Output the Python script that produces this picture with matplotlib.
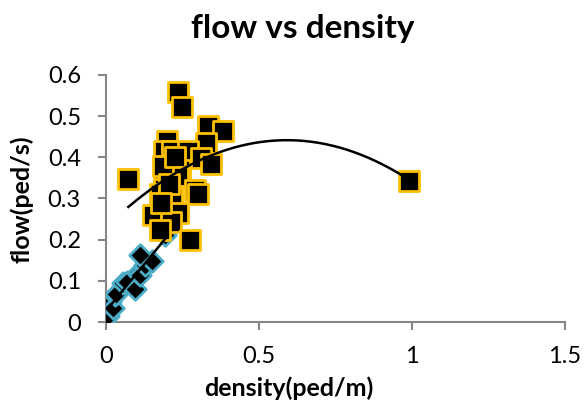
import numpy as np
import matplotlib.pyplot as plt

sq_density = [0.236, 0.249, 0.332, 0.381, 0.327, 0.200, 0.190, 0.215, 0.267,
              0.310, 0.343, 0.242, 0.190, 0.236, 0.073, 0.190, 0.291, 0.176,
              0.215, 0.155, 0.236, 0.212, 0.176, 0.275, 0.187, 0.300, 0.205,
              0.225, 0.180, 0.990]
sq_flow = [0.558, 0.523, 0.475, 0.465, 0.434, 0.440, 0.415, 0.416, 0.415,
           0.399, 0.383, 0.368, 0.364, 0.354, 0.348, 0.324, 0.320, 0.311,
           0.300, 0.259, 0.265, 0.243, 0.223, 0.199, 0.380, 0.310, 0.335,
           0.400, 0.290, 0.342]

dm_density = [0.008, 0.013, 0.024, 0.029, 0.032, 0.057, 0.068, 0.095, 0.106,
              0.111, 0.127, 0.149, 0.111, 0.193]
dm_flow = [0.015, 0.049, 0.033, 0.065, 0.069, 0.094, 0.098, 0.080, 0.118,
           0.114, 0.138, 0.148, 0.163, 0.212]

fig = plt.figure(figsize=(5.84, 4.07), dpi=100)
ax = fig.add_axes([0.1815, 0.2088, 0.786, 0.607])

font = "Lato"
gray = "#868686"

ax.scatter(dm_density, dm_flow, marker="D", s=120, c="black",
           edgecolors="#4BACC6", linewidths=2, zorder=3)
ax.scatter(sq_density, sq_flow, marker="s", s=220, c="black",
           edgecolors="#FFC000", linewidths=2, zorder=4)

# trendlines: linear for the diamonds, 2nd order for the squares
p1 = np.polyfit(dm_density, dm_flow, 1)
xl = np.linspace(min(dm_density), max(dm_density), 50)
ax.plot(xl, np.polyval(p1, xl), color="black", lw=1.8, zorder=5)

p2 = np.polyfit(sq_density, sq_flow, 2)
xq = np.linspace(min(sq_density), max(sq_density), 200)
ax.plot(xq, np.polyval(p2, xq), color="black", lw=1.8, zorder=5)

ax.set_xlim(0, 1.5)
ax.set_ylim(0, 0.6)
ax.set_xticks([0, 0.5, 1, 1.5])
ax.set_xticklabels(["0", "0.5", "1", "1.5"])
ax.set_yticks(np.arange(0, 0.61, 0.1))
ax.set_yticklabels(["0", "0.1", "0.2", "0.3", "0.4", "0.5", "0.6"])

for s in ["top", "right"]:
    ax.spines[s].set_visible(False)
for s in ["left", "bottom"]:
    ax.spines[s].set_color(gray)
    ax.spines[s].set_linewidth(1.5)
ax.tick_params(colors=gray, width=1.5, length=6, labelcolor="black",
               labelsize=17)
for lab in ax.get_xticklabels() + ax.get_yticklabels():
    lab.set_fontfamily(font)
ax.tick_params(axis="x", pad=11)
ax.tick_params(axis="y", pad=12)

fig.text(0.519, 0.93, "flow vs density", ha="center", va="center",
         fontsize=24, fontweight="bold", family=font)
fig.text(0.495, 0.047, "density(ped/m)", ha="center", va="center",
         fontsize=18, fontweight="bold", family=font)
fig.text(0.038, 0.51, "flow(ped/s)", ha="center", va="center",
         rotation=90, fontsize=18, fontweight="bold", family=font)

fig.savefig("out.png", dpi=100)
